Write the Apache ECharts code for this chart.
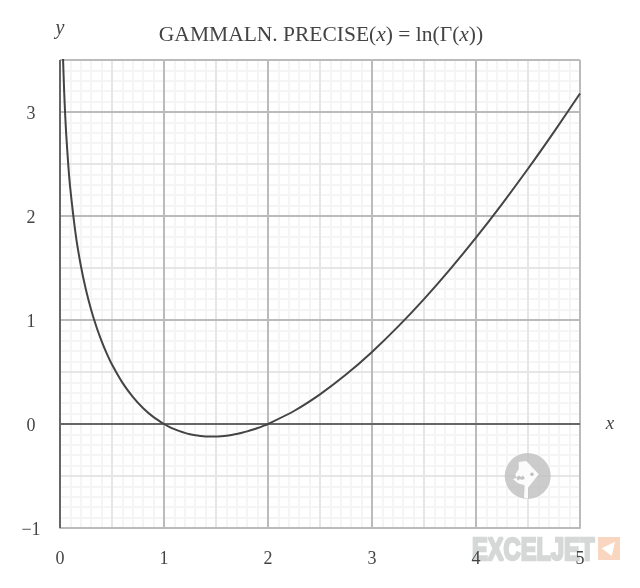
<!DOCTYPE html>
<html>
<head>
<meta charset="utf-8">
<style>html,body{margin:0;padding:0;background:#fff}#c{width:640px;height:588px}</style>
<script src="https://cdn.jsdelivr.net/npm/echarts@6/dist/echarts.min.js"></script>
</head>
<body>
<div id="c"></div>
<script>
const xValues = [0.025,0.03,0.04,0.05,0.06,0.08,0.1,0.15,0.2,0.25,0.3,0.35,0.4,0.45,0.5,0.6,0.7,0.8,0.9,1,1.05,1.1,1.15,1.2,1.25,1.3,1.35,1.4,1.45,1.5,1.55,1.6,1.65,1.7,1.75,1.8,1.85,1.9,1.95,2,2.25,2.5,2.75,3,3.25,3.5,3.75,4,4.25,4.5,4.75,5];
const yValues = [3.68,3.49,3.197,2.969,2.782,2.485,2.253,1.828,1.524,1.288,1.096,0.935,0.797,0.677,0.572,0.398,0.261,0.152,0.066,0,-0.027,-0.05,-0.069,-0.085,-0.098,-0.108,-0.115,-0.12,-0.121,-0.121,-0.118,-0.113,-0.105,-0.096,-0.084,-0.071,-0.056,-0.039,-0.02,0,0.125,0.285,0.475,0.693,0.936,1.201,1.487,1.792,2.115,2.454,2.809,3.178];
const xTicks = [0,1,2,3,4,5];
const yTicks = [-1,0,1,2,3];
const titleParts = ['GAMMALN. PRECISE(', 'x', ') = ln(Γ(', 'x', '))'];
const SERIF = '"Liberation Serif","DejaVu Serif",serif';
const TXT = '#444';

const chart = echarts.init(document.getElementById('c'), null, {renderer:'canvas'});
const grid = {left:60, right:60, top:60, bottom:60};
const hiddenBits = {axisLine:{show:false}, axisTick:{show:false}, axisLabel:{show:false}};
function xa(interval, color, width, z, extra){
  return Object.assign({type:'value', min:0, max:5, interval, z, splitLine:{show:true, lineStyle:{color, width}}}, hiddenBits, extra||{});
}
function ya(interval, color, width, z, extra){
  return Object.assign({type:'value', min:-1, max:3.5, interval, z, splitLine:{show:true, lineStyle:{color, width}}}, hiddenBits, extra||{});
}
const labelStyle = {show:true, color:TXT, fontFamily:SERIF, fontSize:18};
const option = {
  animation:false,
  backgroundColor:'#fff',
  title:{
    left:316, top:19, textAlign:'center',
    text:`{r|${titleParts[0]}}{i|${titleParts[1]}}{r|${titleParts[2]}}{i|${titleParts[3]}}{r|${titleParts[4]}}`,
    textStyle:{fontWeight:'normal', rich:{
      r:{fontFamily:SERIF, fontSize:21.5, fontWeight:'normal', color:TXT},
      i:{fontFamily:SERIF, fontSize:21.5, fontWeight:'normal', fontStyle:'italic', color:TXT}
    }}
  },
  grid,
  xAxis:[
    xa(1,'#bbbbbb',2,4,{
      axisLabel:Object.assign({}, labelStyle, {margin:22, formatter:v=>xTicks.includes(v)?String(v):''}),
      axisLine:{show:true, onZero:false, lineStyle:{color:'#bbbbbb', width:2}}
    }),
    xa(0.5,'#e6e6e6',2,2),
    xa(0.1,'#f5f5f5',2,1)
  ],
  yAxis:[
    ya(1,'#bbbbbb',2,4,{
      axisLabel:Object.assign({}, labelStyle, {margin:29, align:'center',
        rich:{a:{color:TXT, fontFamily:SERIF, fontSize:18, padding:[4,0,0,0]}},
        formatter:v=>yTicks.includes(v)?'{a|'+String(v).replace('-','\u2212')+'}':''}),
      name:'y', nameLocation:'end', nameGap:21,
      nameTextStyle:{color:TXT, fontFamily:SERIF, fontSize:20, fontStyle:'italic', align:'center'}
    }),
    ya(0.5,'#e6e6e6',2,2),
    ya(0.1,'#f5f5f5',2,1)
  ],
  series:[{
    type:'line', xAxisIndex:0, yAxisIndex:0, z:6,
    data:xValues.map((x,i)=>[x,yValues[i]]),
    showSymbol:false, symbol:'none', smooth:0.25, clip:true,
    lineStyle:{color:'#444444', width:2},
    markLine:{silent:true, symbol:'none', label:{show:false}, animation:false,
      lineStyle:{color:'#666666', width:2, type:'solid'},
      data:[{xAxis:0},{yAxis:0}]}
  }],
  graphic:[
    {type:'text', z:5, x:610, y:424, style:{text:'x', fontFamily:SERIF, fontSize:19, fontStyle:'italic', fill:TXT, align:'center', verticalAlign:'middle'}},
    {type:'circle', z:3, shape:{cx:527.7,cy:476,r:23}, style:{fill:'rgba(190,190,190,0.78)'}},
    {type:'polygon', z:3, shape:{points:[[518.7,462],[526.3,461],[538.7,474.3],[528,487.7],[528,498.7],[524,497.7],[524.7,485.3],[518,483.3],[513,479.3],[516.3,477.7],[515.3,474.3],[518.7,469.3]]}, style:{fill:'rgba(255,255,255,0.92)'}},
    {type:'polygon', z:3, shape:{points:[[516,477.5],[519,475.5],[521,477],[523,475.5],[525,478.5],[522,480],[520,479],[518,480.5]]}, style:{fill:'rgba(190,190,190,0.9)'}},
    {type:'circle', z:3, shape:{cx:532,cy:474.3,r:1.7}, style:{fill:'#bbb'}},
    {type:'text', z:3, x:472, y:535, scaleX:0.74, style:{text:'EXCELJET', fontFamily:'"Liberation Sans",sans-serif', fontWeight:'bold', fontSize:32, fill:'#d6d8d8', stroke:'#d6d8d8', lineWidth:2.5}},
    {type:'rect', z:3, shape:{x:598,y:537,width:22,height:23}, style:{fill:'#f9d6bf'}},
    {type:'polygon', z:3, shape:{points:[[601.7,548.3],[615,541.7],[611.7,556]]}, style:{fill:'#fff'}}
  ]
};
chart.setOption(option);
</script>
</body>
</html>
